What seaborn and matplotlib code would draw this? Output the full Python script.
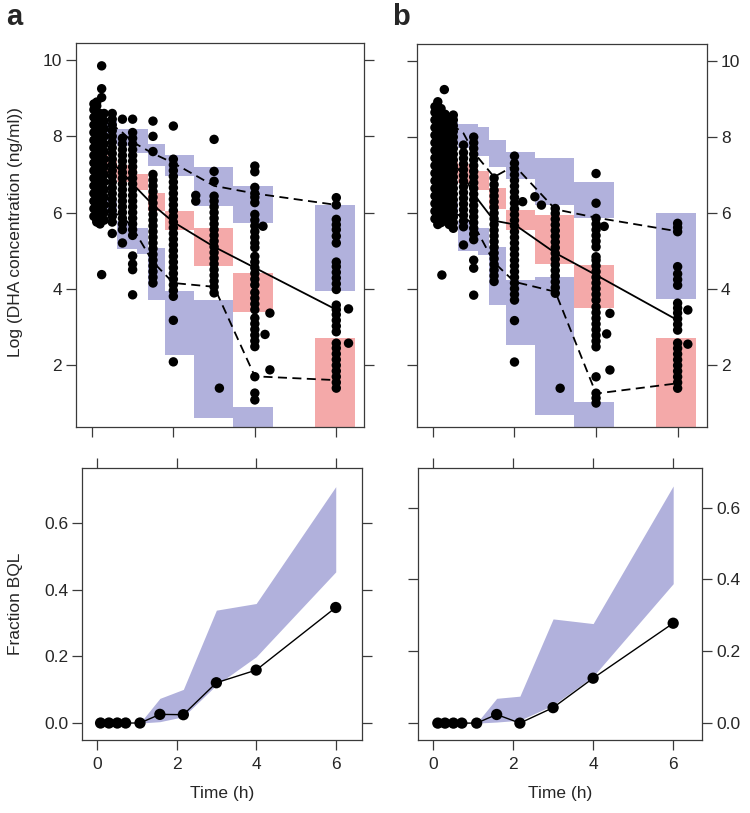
import numpy as np
import pandas as pd
import seaborn as sns
import matplotlib.pyplot as plt

sns.set_theme(style='ticks')
plt.rcParams['font.family'] = ['Liberation Sans', 'DejaVu Sans']

BLUE = '#b1b1dc'
PINK = '#f4a9a9'
EDGE = '#3a3a3a'

# ---- observed log concentrations, per sampling time (panel a) ----
a_times = [0.05, 0.12, 0.2, 0.24, 0.3, 0.5, 0.75, 1.0, 1.5, 2.0, 2.55, 3.0, 3.13,
           4.0, 4.2, 4.25, 4.37, 6.0, 6.3]
a_values = [
    [5.9, 6.1, 6.3, 6.5, 6.7, 6.9, 7.1, 7.3, 7.5, 7.7, 7.9, 8.1, 8.3, 8.5, 8.7, 8.85],
    [5.75, 5.8, 6.0, 6.2, 6.4, 6.6, 6.8, 7.0, 7.2, 7.4, 7.6, 7.8, 8.0, 8.2, 8.4, 8.6, 8.8, 8.9],
    [5.7, 5.9, 6.05, 6.25, 6.45, 6.65, 6.85, 7.05, 7.25, 7.45, 7.65, 7.85, 8.05, 8.25, 8.45, 8.6],
    [4.37, 9.02, 9.25, 9.85],
    [5.8, 6.0, 6.2, 6.4, 6.6, 6.8, 7.0, 7.2, 7.4, 7.6, 7.8, 8.0, 8.2, 8.4, 8.6],
    [5.45, 5.75, 5.9, 6.05, 6.2, 6.35, 6.5, 6.65, 6.8, 6.95, 7.1, 7.25, 7.4, 7.55, 7.7,
     7.85, 8.0, 8.15, 8.3, 8.45, 8.6],
    [5.2, 5.55, 5.7, 5.85, 6.0, 6.15, 6.3, 6.45, 6.6, 6.75, 6.9, 7.05, 7.2, 7.35, 7.5,
     7.65, 7.8, 7.95, 8.45],
    [3.84, 4.5, 4.65, 4.86, 5.4, 5.55, 5.7, 5.85, 6.0, 6.15, 6.3, 6.45, 6.6, 6.75, 6.9,
     7.05, 7.2, 7.35, 7.5, 7.65, 7.8, 7.95, 8.1, 8.45],
    [4.15, 4.3, 4.45, 4.6, 4.75, 4.9, 5.05, 5.2, 5.35, 5.5, 5.65, 5.8, 5.95, 6.1, 6.25,
     6.4, 6.55, 6.7, 6.85, 7.0, 7.6, 8.0, 8.4],
    [2.08, 3.17, 3.8, 3.95, 4.1, 4.25, 4.4, 4.55, 4.7, 4.85, 5.0, 5.15, 5.3, 5.45, 5.6,
     5.75, 5.9, 6.05, 6.2, 6.35, 6.5, 6.65, 6.8, 6.95, 7.1, 7.25, 7.4, 8.27],
    [6.3, 6.45],
    [3.89, 4.05, 4.2, 4.35, 4.5, 4.65, 4.8, 4.95, 5.1, 5.25, 5.4, 5.55, 5.7, 5.85, 6.0,
     6.15, 6.3, 6.43, 6.82, 7.08, 7.92],
    [1.39],
    [1.08, 1.26, 1.69, 2.48, 2.63, 2.78, 2.93, 3.08, 3.23, 3.45, 3.6, 3.75, 3.9, 4.1,
     4.25, 4.4, 4.55, 4.7, 4.85, 5.08, 5.2, 5.35, 5.5, 5.65, 5.8, 5.95, 6.26, 6.4, 6.5,
     6.66, 7.07, 7.22],
    [5.64],
    [2.8],
    [3.36, 1.87],
    [1.39, 1.54, 1.69, 1.84, 1.99, 2.14, 2.29, 2.44, 2.57, 2.87, 3.02, 3.17, 3.32, 3.45,
     3.57, 3.98, 4.13, 4.28, 4.43, 4.58, 4.7, 5.2, 5.38, 5.55, 5.68, 5.82, 6.2, 6.39],
    [3.47, 2.57],
]

# ---- observed log concentrations (panel b) ----
b_times = [0.05, 0.12, 0.2, 0.22, 0.28, 0.3, 0.4, 0.5, 0.75, 1.0, 1.5, 2.0, 2.2, 2.5,
           2.66, 3.0, 3.12, 4.0, 4.2, 4.26, 4.34, 6.0, 6.25]
b_values = [
    [5.85, 6.05, 6.25, 6.45, 6.65, 6.85, 7.05, 7.25, 7.45, 7.65, 7.85, 8.05, 8.25, 8.45, 8.65, 8.8],
    [5.7, 5.9, 6.1, 6.3, 6.5, 6.7, 6.9, 7.1, 7.3, 7.5, 7.7, 7.9, 8.1, 8.3, 8.5, 8.7, 8.93],
    [5.75, 5.95, 6.15, 6.35, 6.55, 6.75, 6.95, 7.15, 7.35, 7.55, 7.75, 7.95, 8.15, 8.35, 8.55, 8.75],
    [4.37],
    [9.25],
    [5.8, 6.0, 6.2, 6.4, 6.6, 6.8, 7.0, 7.2, 7.4, 7.6, 7.8, 8.0, 8.2, 8.4, 8.6],
    [5.7, 5.9, 6.1, 6.3, 6.5, 6.7, 6.9, 7.1, 7.3, 7.5, 7.7, 7.9, 8.1, 8.3, 8.5],
    [5.6, 5.75, 5.9, 6.05, 6.2, 6.35, 6.5, 6.65, 6.8, 6.95, 7.1, 7.25, 7.4, 7.55, 7.7,
     7.85, 8.0, 8.15, 8.3, 8.45, 8.58],
    [5.16, 5.64, 5.79, 5.94, 6.09, 6.24, 6.39, 6.54, 6.69, 6.84, 6.99, 7.14, 7.29, 7.44,
     7.59, 7.79],
    [3.84, 4.55, 4.76, 5.3, 5.45, 5.6, 5.75, 5.9, 6.05, 6.2, 6.35, 6.5, 6.65, 6.8, 6.95,
     7.1, 7.25, 7.4, 7.55, 7.7, 7.85, 8.0],
    [4.2, 4.35, 4.5, 4.65, 4.8, 4.95, 5.1, 5.25, 5.4, 5.55, 5.7, 5.85, 6.0, 6.15, 6.3,
     6.45, 6.6, 6.75, 6.92],
    [2.08, 3.17, 3.71, 3.86, 4.01, 4.16, 4.31, 4.46, 4.61, 4.76, 4.91, 5.06, 5.21, 5.36,
     5.51, 5.66, 5.81, 5.96, 6.11, 6.26, 6.41, 6.56, 6.71, 6.86, 7.01, 7.16, 7.31, 7.5],
    [6.3],
    [6.43],
    [6.21],
    [3.89, 4.04, 4.19, 4.34, 4.49, 4.64, 4.79, 4.94, 5.09, 5.24, 5.39, 5.54, 5.69, 5.84,
     5.99, 6.12],
    [1.39],
    [1.0, 1.13, 1.26, 1.69, 2.48, 2.63, 2.78, 2.93, 3.08, 3.23, 3.38, 3.53, 3.71, 3.86,
     4.01, 4.16, 4.31, 4.46, 4.61, 4.76, 4.85, 5.11, 5.26, 5.41, 5.56, 5.71, 5.86, 6.26, 7.04],
    [5.65],
    [2.82],
    [3.36, 1.87],
    [1.39, 1.54, 1.69, 1.84, 1.99, 2.14, 2.29, 2.44, 2.58, 2.92, 3.07, 3.22, 3.37, 3.5,
     3.63, 4.1, 4.25, 4.4, 4.59, 5.51, 5.62, 5.73],
    [3.45, 2.55],
]

# ---- time bins of the VPC ----
bin_lo = [0.02, 0.2, 0.4, 0.62, 1.10, 1.38, 1.79, 2.51, 3.47, 5.48]
bin_hi = [0.2, 0.4, 0.62, 1.10, 1.38, 1.79, 2.51, 3.47, 4.45, 6.46]

# simulated CI of the 95th / 50th / 5th percentile, per bin (low, high)
a_ci_upper = [(8.0, 8.5), (7.9, 8.45), (7.8, 8.4), (7.75, 8.2), (7.57, 8.18), (7.22, 7.79),
              (6.95, 7.52), (6.17, 7.2), (5.73, 6.69), (3.93, 6.21)]
a_ci_median = [(7.1, 7.6), (7.0, 7.5), (6.9, 7.4), (6.8, 7.25), (6.6, 7.0), (6.04, 6.52),
               (5.55, 6.04), (4.6, 5.6), (3.4, 4.42), (-1.0, 2.7)]
a_ci_lower = [(6.0, 6.5), (5.95, 6.4), (5.85, 6.3), (5.03, 5.77), (4.9, 5.6), (3.71, 5.07),
              (2.26, 3.93), (0.6, 3.71), (-1.0, 0.9), (np.nan, np.nan)]

b_ci_upper = [(8.0, 8.5), (7.9, 8.45), (7.8, 8.4), (7.7, 8.35), (7.5, 8.27), (7.2, 7.92),
              (6.9, 7.6), (6.2, 7.44), (5.86, 6.82), (3.73, 5.99)]
b_ci_median = [(7.1, 7.6), (7.0, 7.5), (6.9, 7.4), (6.8, 7.3), (6.6, 7.1), (6.1, 6.65),
               (5.55, 6.08), (4.67, 5.95), (3.49, 4.63), (-1.0, 2.7)]
b_ci_lower = [(6.0, 6.5), (5.95, 6.4), (5.85, 6.3), (5.0, 5.8), (4.9, 5.6), (3.58, 5.1),
              (2.53, 4.24), (0.68, 4.32), (-1.0, 1.03), (np.nan, np.nan)]

# observed percentiles (lines)
line_t = [0.1, 0.25, 0.5, 0.75, 1.0, 1.5, 2.0, 3.0, 4.0, 6.0]
a_p50 = [7.6, 7.55, 7.3, 7.05, 6.75, 6.2, 5.75, 5.1, 4.55, 3.45]
a_p95 = [8.4, 8.35, 8.3, 8.1, 7.85, 7.55, 7.3, 6.7, 6.5, 6.2]
a_p05 = [6.1, 6.05, 6.0, 5.9, 5.6, 4.7, 4.15, 4.05, 1.7, 1.6]
b_p50 = [7.6, 7.55, 7.3, 7.0, 6.5, 5.8, 5.7, 4.95, 4.37, 3.18]
b_p95 = [8.4, 8.35, 8.3, 8.1, 7.6, 6.95, 7.25, 6.1, 5.88, 5.52]
b_p05 = [6.1, 6.05, 6.0, 5.9, 5.7, 4.7, 4.19, 3.93, 1.25, 1.52]

# ---- fraction below quantification limit ----
bql_a_time = [0.09, 0.3, 0.51, 0.72, 1.08, 1.58, 2.17, 3.0, 4.0, 6.0]
bql_a_obs = [0, 0, 0, 0, 0, 0.026, 0.025, 0.121, 0.159, 0.347]
bql_a_lo = [0, 0, 0, 0, 0, 0.004, 0.019, 0.114, 0.199, 0.454]
bql_a_hi = [0, 0, 0, 0, 0, 0.074, 0.101, 0.339, 0.359, 0.71]

bql_b_time = [0.12, 0.3, 0.51, 0.72, 1.09, 1.59, 2.17, 3.0, 4.0, 6.0]
bql_b_obs = [0, 0, 0, 0, 0, 0.024, 0, 0.043, 0.125, 0.278]
bql_b_lo = [0, 0, 0, 0, 0, 0.003, 0.008, 0.05, 0.13, 0.388]
bql_b_hi = [0, 0, 0, 0, 0, 0.069, 0.075, 0.29, 0.277, 0.66]


def style_axes(ax, left_lab, right_lab, top_ticks, bottom_lab):
    for sp in ax.spines.values():
        sp.set_visible(True)
        sp.set_color(EDGE)
        sp.set_linewidth(0.9)
    ax.tick_params(axis='y', direction='out', length=7, width=0.9, color=EDGE,
                   left=True, right=True, labelleft=left_lab, labelright=right_lab,
                   labelsize=12.5, pad=3)
    ax.tick_params(axis='x', direction='out', length=7, width=0.9, color=EDGE,
                   bottom=True, top=top_ticks, labelbottom=bottom_lab, labeltop=False,
                   labelsize=12.5, pad=5)


def draw_conc(ax, times, values, ci_u, ci_m, ci_l, p50, p95, p05, xlim):
    for cis, col in [(ci_u, BLUE), (ci_m, PINK), (ci_l, BLUE)]:
        for lo_t, hi_t, (lo, hi) in zip(bin_lo, bin_hi, cis):
            if np.isnan(lo):
                continue
            ax.bar(lo_t, hi - lo, bottom=lo, width=hi_t - lo_t, align='edge',
                   color=col, linewidth=0, zorder=1)
    df = pd.DataFrame([(t, v) for t, vs in zip(times, values) for v in vs],
                      columns=['time', 'conc'])
    sns.scatterplot(data=df, x='time', y='conc', ax=ax, color='black', s=46,
                    edgecolor='none', linewidth=0, zorder=3, legend=False)
    sns.lineplot(x=line_t, y=p50, ax=ax, color='black', linewidth=1.3,
                 estimator=None, sort=False, zorder=4)
    for p in (p95, p05):
        sns.lineplot(x=line_t, y=p, ax=ax, color='black', linewidth=1.3,
                     linestyle=(0, (5, 3)), estimator=None, sort=False, zorder=4)
    ax.set_xlim(*xlim)
    ax.set_ylim(0.37, 10.45)
    ax.set_xticks([0, 2, 4, 6])
    ax.set_yticks([2, 4, 6, 8, 10])
    ax.set_xlabel('')
    ax.set_ylabel('')


def draw_bql(ax, t, obs, lo, hi, xlim, ylim):
    ax.fill_between(t, lo, hi, color=BLUE, linewidth=0, zorder=1)
    sns.lineplot(x=t, y=obs, ax=ax, color='black', linewidth=1.0,
                 estimator=None, sort=False, zorder=3)
    sns.scatterplot(x=t, y=obs, ax=ax, color='black', s=66, edgecolor='none',
                    linewidth=0, zorder=4, legend=False)
    ax.set_xlim(*xlim)
    ax.set_ylim(*ylim)
    ax.set_xticks([0, 2, 4, 6])
    ax.set_yticks([0.0, 0.2, 0.4, 0.6])
    ax.set_yticklabels(['0.0', '0.2', '0.4', '0.6'])
    ax.set_xlabel('Time (h)', fontsize=12.5, labelpad=10)
    ax.set_ylabel('')


W, H = 750, 813
fig = plt.figure(figsize=(W / 100, H / 100), dpi=100)


def box(l, r, t, b):
    return [l / W, 1 - b / H, (r - l) / W, (b - t) / H]


ax_a = fig.add_axes(box(76, 364, 43, 427))
ax_b = fig.add_axes(box(417, 707, 44, 427))
ax_c = fig.add_axes(box(82, 362, 468, 740))
ax_d = fig.add_axes(box(418, 702, 468, 740))

draw_conc(ax_a, a_times, a_values, a_ci_upper, a_ci_median, a_ci_lower,
          a_p50, a_p95, a_p05, (-0.39, 6.68))
draw_conc(ax_b, b_times, b_values, b_ci_upper, b_ci_median, b_ci_lower,
          b_p50, b_p95, b_p05, (-0.39, 6.72))
draw_bql(ax_c, bql_a_time, bql_a_obs, bql_a_lo, bql_a_hi, (-0.377, 6.66), (-0.051, 0.766))
draw_bql(ax_d, bql_b_time, bql_b_obs, bql_b_lo, bql_b_hi, (-0.375, 6.72), (-0.047, 0.71))

style_axes(ax_a, True, False, False, False)
style_axes(ax_b, False, True, False, False)
style_axes(ax_c, True, False, True, True)
style_axes(ax_d, False, True, True, True)

fig.text(16 / W, 1 - 232 / H, 'Log (DHA concentration (ng/ml))', rotation=90,
         ha='center', va='center', fontsize=12.5)
fig.text(16 / W, 1 - 604 / H, 'Fraction BQL', rotation=90,
         ha='center', va='center', fontsize=12.5)
fig.text(6 / W, 1 - 17 / H, 'a', fontsize=21, fontweight='bold', ha='left', va='center')
fig.text(392 / W, 1 - 17 / H, 'b', fontsize=21, fontweight='bold', ha='left', va='center')

fig.savefig('out.png', dpi=100)
